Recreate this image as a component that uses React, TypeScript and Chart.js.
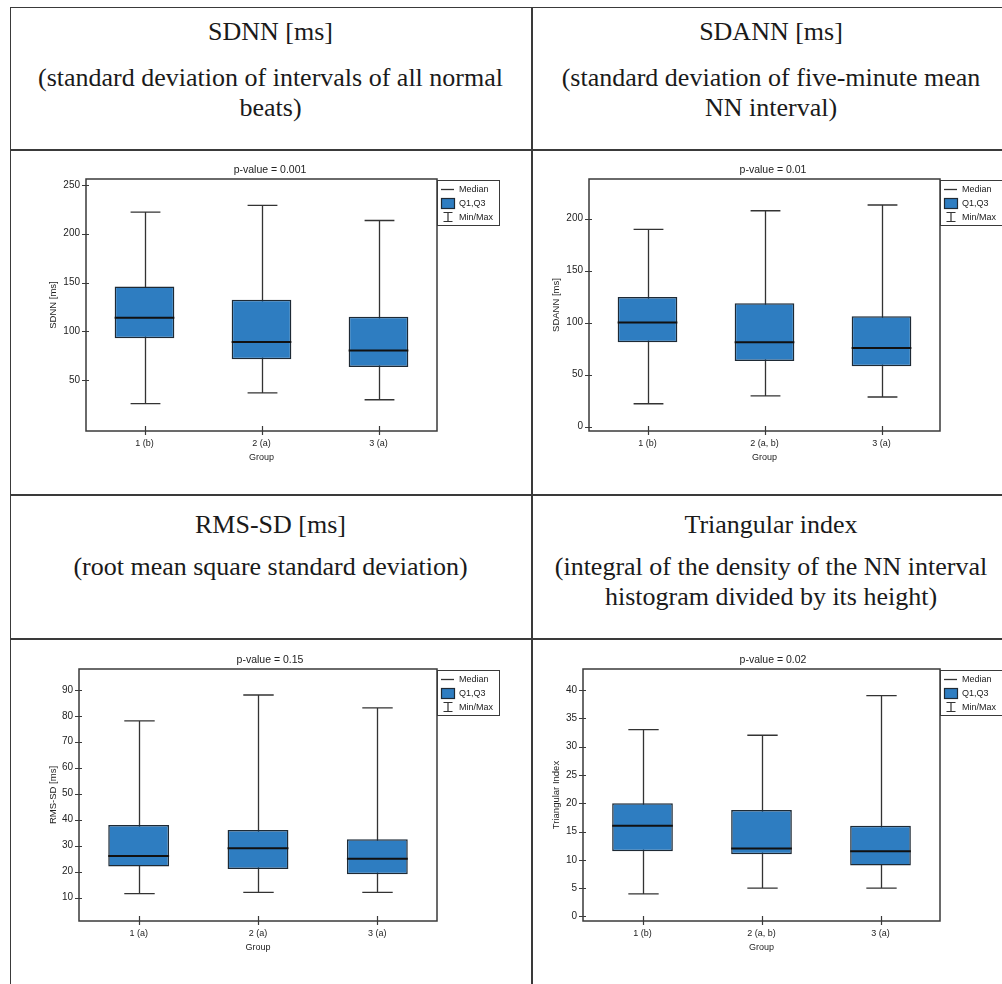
import React, { useEffect, useRef } from "react";
import { Chart, registerables } from "chart.js";

Chart.register(...registerables);

// ---------- data ----------
const sdnnGroups = ["1 (b)", "2 (a)", "3 (a)"];
const sdnnMin = [26, 37, 30];
const sdnnQ1 = [93, 71.5, 63.5];
const sdnnMedian = [114, 89, 80.5];
const sdnnQ3 = [146, 132.5, 115];
const sdnnMax = [222, 229, 213.5];
const sdnnTicks = [50, 100, 150, 200, 250];

const sdannGroups = ["1 (b)", "2 (a, b)", "3 (a)"];
const sdannMin = [22, 29.5, 28.5];
const sdannQ1 = [81, 63, 58];
const sdannMedian = [100, 81, 75.5];
const sdannQ3 = [124.5, 118.5, 106];
const sdannMax = [189.5, 207.5, 213];
const sdannTicks = [0, 50, 100, 150, 200];

const rmssdGroups = ["1 (a)", "2 (a)", "3 (a)"];
const rmssdMin = [11.5, 12, 12];
const rmssdQ1 = [22, 21, 19];
const rmssdMedian = [26, 29, 25];
const rmssdQ3 = [38, 36, 32.5];
const rmssdMax = [78, 88, 83];
const rmssdTicks = [10, 20, 30, 40, 50, 60, 70, 80, 90];

const triGroups = ["1 (b)", "2 (a, b)", "3 (a)"];
const triMin = [4, 5, 5];
const triQ1 = [11.5, 11, 9];
const triMedian = [16, 12, 11.5];
const triQ3 = [20, 18.8, 16];
const triMax = [33, 32, 39];
const triTicks = [0, 5, 10, 15, 20, 25, 30, 35, 40];

const legendLabels = ["Median", "Q1,Q3", "Min/Max"];
const xAxisTitle = "Group";

// ---------- style ----------
const SANS = "'Liberation Sans', Arial, sans-serif";
const SERIF = "'Liberation Serif', 'Times New Roman', serif";
const BOX_FILL = "#2e7dc1";
const BOX_EDGE = "#1e2a35";
const FRAME = "#3a3a3a";
const TEXT = "#222";

type Spec = {
  groups: string[];
  min: number[];
  q1: number[];
  median: number[];
  q3: number[];
  max: number[];
  ticks: number[];
  yMin: number;
  yMax: number;
  yTitle: string;
  pTitle: string;
  yAxisWidth: number;
};

const specs: Spec[] = [
  { groups: sdnnGroups, min: sdnnMin, q1: sdnnQ1, median: sdnnMedian, q3: sdnnQ3, max: sdnnMax, ticks: sdnnTicks, yMin: -2, yMax: 256, yTitle: "SDNN [ms]", pTitle: "p-value = 0.001", yAxisWidth: 56 },
  { groups: sdannGroups, min: sdannMin, q1: sdannQ1, median: sdannMedian, q3: sdannQ3, max: sdannMax, ticks: sdannTicks, yMin: -4.2, yMax: 238, yTitle: "SDANN [ms]", pTitle: "p-value = 0.01", yAxisWidth: 56 },
  { groups: rmssdGroups, min: rmssdMin, q1: rmssdQ1, median: rmssdMedian, q3: rmssdQ3, max: rmssdMax, ticks: rmssdTicks, yMin: 1, yMax: 98, yTitle: "RMS-SD [ms]", pTitle: "p-value = 0.15", yAxisWidth: 49 },
  { groups: triGroups, min: triMin, q1: triQ1, median: triMedian, q3: triQ3, max: triMax, ticks: triTicks, yMin: -0.8, yMax: 43.7, yTitle: "Triangular Index", pTitle: "p-value = 0.02", yAxisWidth: 50 },
];

function makeBoxPlugin(spec: Spec) {
  return {
    id: "boxExtras",
    beforeDatasetsDraw(chart: any) {
      const { ctx, scales } = chart;
      const x = scales.x;
      const y = scales.y;
      const meta = chart.getDatasetMeta(0);
      ctx.save();
      ctx.strokeStyle = "#333";
      ctx.lineWidth = 1.3;
      spec.groups.forEach((_, i) => {
        const cx = Math.round(x.getPixelForValue(i)) + 0.5;
        const w = meta.data[i].width;
        const half = w / 4;
        const yMn = y.getPixelForValue(spec.min[i]);
        const yMx = y.getPixelForValue(spec.max[i]);
        ctx.beginPath();
        ctx.moveTo(cx, yMn);
        ctx.lineTo(cx, yMx);
        ctx.moveTo(cx - half, yMn);
        ctx.lineTo(cx + half, yMn);
        ctx.moveTo(cx - half, yMx);
        ctx.lineTo(cx + half, yMx);
        ctx.stroke();
      });
      ctx.restore();
    },
    afterDatasetsDraw(chart: any) {
      const { ctx, scales, chartArea } = chart;
      const x = scales.x;
      const y = scales.y;
      const meta = chart.getDatasetMeta(0);
      ctx.save();
      // medians
      ctx.strokeStyle = "#111";
      ctx.lineWidth = 2;
      spec.groups.forEach((_, i) => {
        const el = meta.data[i];
        const ym = y.getPixelForValue(spec.median[i]);
        ctx.beginPath();
        ctx.moveTo(el.x - el.width / 2, ym);
        ctx.lineTo(el.x + el.width / 2, ym);
        ctx.stroke();
      });
      // frame
      const { left, right, top, bottom } = chartArea;
      ctx.strokeStyle = FRAME;
      ctx.lineWidth = 1.5;
      ctx.strokeRect(left, top, right - left, bottom - top);
      // tick marks crossing axes
      ctx.lineWidth = 1.2;
      ctx.beginPath();
      y.ticks.forEach((t: any) => {
        const py = Math.round(y.getPixelForValue(t.value)) + 0.5;
        ctx.moveTo(left - 4, py);
        ctx.lineTo(left + 3, py);
      });
      spec.groups.forEach((_, i) => {
        const px = Math.round(x.getPixelForValue(i)) + 0.5;
        ctx.moveTo(px, bottom - 5);
        ctx.lineTo(px, bottom + 4);
      });
      ctx.stroke();
      // p-value title, centred on the whole canvas
      ctx.fillStyle = TEXT;
      ctx.font = `10.5px ${SANS}`;
      ctx.textAlign = "center";
      ctx.textBaseline = "middle";
      ctx.fillText(spec.pTitle, chart.width / 2, 20.5);
      // legend
      const lx = right;
      const ly = top + 1;
      ctx.lineWidth = 1;
      ctx.strokeStyle = FRAME;
      ctx.strokeRect(lx + 0.5, ly + 0.5, 62, 45);
      ctx.font = `9px ${SANS}`;
      ctx.textBaseline = "middle";
      ctx.textAlign = "left";
      const r1 = ly + 9.5;
      const r2 = ly + 23.5;
      const r3 = ly + 37.5;
      ctx.strokeStyle = "#333";
      ctx.lineWidth = 1.3;
      ctx.beginPath();
      ctx.moveTo(lx + 4, r1);
      ctx.lineTo(lx + 17, r1);
      ctx.stroke();
      ctx.fillStyle = BOX_FILL;
      ctx.fillRect(lx + 4.5, r2 - 5, 13, 10);
      ctx.strokeStyle = BOX_EDGE;
      ctx.lineWidth = 1.2;
      ctx.strokeRect(lx + 4.5, r2 - 5, 13, 10);
      ctx.strokeStyle = "#333";
      ctx.beginPath();
      ctx.moveTo(lx + 11, r3 - 5);
      ctx.lineTo(lx + 11, r3 + 4);
      ctx.moveTo(lx + 6.5, r3 - 5);
      ctx.lineTo(lx + 15.5, r3 - 5);
      ctx.moveTo(lx + 6.5, r3 + 4);
      ctx.lineTo(lx + 15.5, r3 + 4);
      ctx.stroke();
      ctx.fillStyle = TEXT;
      ctx.fillText(legendLabels[0], lx + 22, r1);
      ctx.fillText(legendLabels[1], lx + 22, r2);
      ctx.fillText(legendLabels[2], lx + 22, r3);
      ctx.restore();
    },
  };
}

function BoxPanel({ spec, left, top }: { spec: Spec; left: number; top: number }) {
  const ref = useRef<HTMLCanvasElement>(null);
  useEffect(() => {
    if (!ref.current) return;
    const chart = new Chart(ref.current, {
      type: "bar",
      data: {
        labels: spec.groups,
        datasets: [
          {
            data: spec.q1.map((v, i) => [v, spec.q3[i]]) as any,
            backgroundColor: BOX_FILL,
            borderColor: BOX_EDGE,
            borderWidth: 1.5,
            borderSkipped: false,
            barPercentage: 0.51,
            categoryPercentage: 1,
          },
        ],
      },
      options: {
        responsive: false,
        animation: false,
        events: [],
        layout: { padding: { left: 0, right: 73, top: 29, bottom: 0 } },
        plugins: {
          legend: { display: false },
          tooltip: { enabled: false },
          title: { display: false },
        },
        scales: {
          x: {
            grid: { display: false, drawTicks: false },
            border: { display: false },
            ticks: { color: TEXT, font: { family: SANS, size: 9 }, padding: 7 },
            title: {
              display: true,
              text: xAxisTitle,
              color: TEXT,
              font: { family: SANS, size: 9 },
              padding: { top: 0, bottom: 2 },
            },
            afterFit: (s: any) => {
              s.height = 34;
            },
          },
          y: {
            min: spec.yMin,
            max: spec.yMax,
            grid: { display: false, drawTicks: false },
            border: { display: false },
            ticks: { color: TEXT, font: { family: SANS, size: 10 }, padding: 6 },
            afterBuildTicks: (s: any) => {
              s.ticks = spec.ticks.map((v) => ({ value: v }));
            },
            title: {
              display: true,
              text: spec.yTitle,
              color: TEXT,
              font: { family: SANS, size: 9.5 },
              padding: { top: 18, bottom: 0 },
            },
            afterFit: (s: any) => {
              s.width = spec.yAxisWidth;
            },
          },
        },
      } as any,
      plugins: [makeBoxPlugin(spec)],
    });
    return () => chart.destroy();
  }, [spec]);
  return (
    <canvas
      ref={ref}
      width={480}
      height={315}
      style={{ position: "absolute", left, top, width: 480, height: 315 }}
    />
  );
}

function HLine({ y, h }: { y: number; h: number }) {
  return <div style={{ position: "absolute", left: 10, top: y, width: 1000, height: h, background: "#3a3a3a" }} />;
}
function VLine({ x, w }: { x: number; w: number }) {
  return <div style={{ position: "absolute", left: x, top: 7, width: w, height: 990, background: "#3a3a3a" }} />;
}

function Header({ left, width, top, title, lines, gap }: { left: number; width: number; top: number; title: string; lines: string[]; gap: number }) {
  return (
    <div style={{ position: "absolute", left, top, width, textAlign: "center", fontFamily: SERIF, fontSize: 26, color: "#1a1a1a" }}>
      <div style={{ lineHeight: "30px", whiteSpace: "nowrap" }}>{title}</div>
      <div style={{ marginTop: gap, lineHeight: "30px", whiteSpace: "nowrap" }}>
        {lines.map((l, i) => (
          <div key={i}>{l}</div>
        ))}
      </div>
    </div>
  );
}

export default function App() {
  return (
    <div style={{ position: "fixed", left: 0, top: 0, width: 1002, height: 984, overflow: "hidden", background: "#fff" }}>
      <HLine y={7} h={1} />
      <HLine y={149} h={2} />
      <HLine y={494} h={2} />
      <HLine y={638} h={2} />
      <VLine x={10} w={1} />
      <VLine x={531} w={1.5} />

      <Header left={10} width={521} top={17} title="SDNN [ms]" lines={["(standard deviation of intervals of all normal", "beats)"]} gap={16} />
      <Header left={532} width={478} top={17} title="SDANN [ms]" lines={["(standard deviation of five-minute mean", "NN interval)"]} gap={16} />
      <Header left={10} width={521} top={510} title="RMS-SD [ms]" lines={["(root mean square standard deviation)"]} gap={12} />
      <Header left={532} width={478} top={510} title="Triangular index" lines={["(integral of the density of the NN interval", "histogram divided by its height)"]} gap={12} />

      <BoxPanel spec={specs[0]} left={30} top={150} />
      <BoxPanel spec={specs[1]} left={533} top={150} />
      <BoxPanel spec={specs[2]} left={30} top={640} />
      <BoxPanel spec={specs[3]} left={533} top={640} />
    </div>
  );
}
